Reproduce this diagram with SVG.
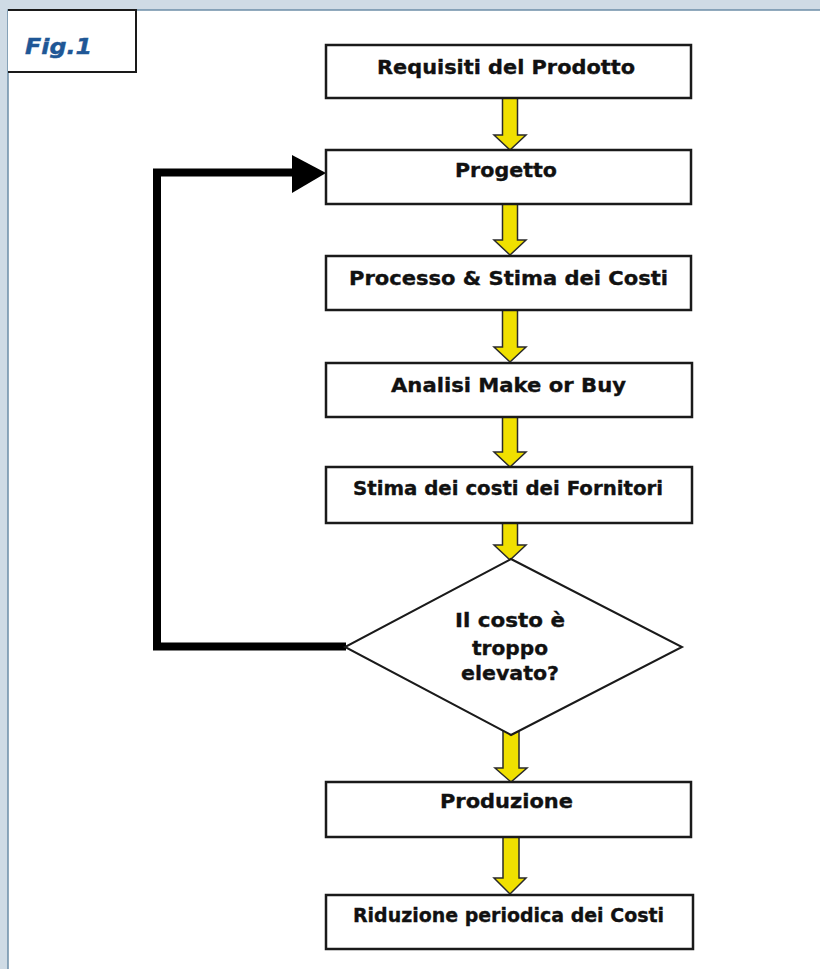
<svg xmlns="http://www.w3.org/2000/svg" width="820" height="969" viewBox="0 0 820 969">
<style>
.box{fill:#fff;stroke:#1a1a1a;stroke-width:2.5}
.lbl{font-family:"DejaVu Sans","Verdana",sans-serif;font-weight:bold;font-size:19.5px;fill:#111;stroke:#111;stroke-width:0.35;text-anchor:middle}
.yarr{fill:#f0e000;stroke:#2a2a2a;stroke-width:1.5;stroke-linejoin:miter}
.fb{fill:none;stroke:#000;stroke-width:8;stroke-linejoin:miter}
</style>
<rect x="0" y="0" width="820" height="969" fill="#cfdbe5"/>
<rect x="8" y="10" width="820" height="970" fill="#fff" stroke="#6e8ea8" stroke-width="1.5"/>
<g id="fig-label">
<path d="M8,10 H136 V72 H8" fill="#fff" stroke="#1a1a1a" stroke-width="2"/>
<text x="25" y="54" font-family="DejaVu Sans, Verdana, sans-serif" font-weight="bold" font-style="italic" font-size="20.5" fill="#1f5796" stroke="#1f5796" stroke-width="0.4" textLength="67" lengthAdjust="spacingAndGlyphs">Fig.1</text>
</g>
<g id="connectors">
<path class="yarr" d="M502.5,98 V135 H494 L510,150 L526,135 H517.5 V98 Z"/>
<path class="yarr" d="M502.5,204 V240 H494 L510,255 L526,240 H517.5 V204 Z"/>
<path class="yarr" d="M502.5,310 V347 H494 L510,362 L526,347 H517.5 V310 Z"/>
<path class="yarr" d="M502.5,417 V452 H494 L510,467 L526,452 H517.5 V417 Z"/>
<path class="yarr" d="M502.5,523 V545 H494 L510,560 L526,545 H517.5 V523 Z"/>
<path class="yarr" d="M503,731 V768 H495 L511,782 L527,768 H519 V731 Z"/>
<path class="yarr" d="M503,837 V878 H494 L510,894 L526,878 H519 V837 Z"/>
<path class="fb" d="M346,646.5 H157 V172.5 H296"/>
<polygon points="292,155 326,173 292,193" fill="#000"/>
</g>
<g id="n1"><rect class="box" x="326" y="45" width="365" height="53"/><text class="lbl" x="506" y="74" textLength="258" lengthAdjust="spacingAndGlyphs">Requisiti del Prodotto</text></g>
<g id="n2"><rect class="box" x="326" y="150" width="365" height="54"/><text class="lbl" x="506" y="177" textLength="102" lengthAdjust="spacingAndGlyphs">Progetto</text></g>
<g id="n3"><rect class="box" x="326" y="256" width="365" height="54"/><text class="lbl" x="508.5" y="285" textLength="319" lengthAdjust="spacingAndGlyphs">Processo &amp; Stima dei Costi</text></g>
<g id="n4"><rect class="box" x="326" y="363" width="366" height="54"/><text class="lbl" x="508.5" y="392" textLength="235" lengthAdjust="spacingAndGlyphs">Analisi Make or Buy</text></g>
<g id="n5"><rect class="box" x="326" y="467" width="366" height="56"/><text class="lbl" x="508" y="495" textLength="310" lengthAdjust="spacingAndGlyphs">Stima dei costi dei Fornitori</text></g>
<g id="n6"><polygon points="511,559 682,647 511,735 345,647" fill="#fff" stroke="#1a1a1a" stroke-width="2"/>
<text class="lbl" x="510" y="627" textLength="110" lengthAdjust="spacingAndGlyphs">Il costo è</text>
<text class="lbl" x="510" y="655" textLength="76" lengthAdjust="spacingAndGlyphs">troppo</text>
<text class="lbl" x="510" y="680" textLength="98" lengthAdjust="spacingAndGlyphs">elevato?</text></g>
<g id="n7"><rect class="box" x="326" y="782" width="365" height="55"/><text class="lbl" x="506.5" y="808" textLength="133" lengthAdjust="spacingAndGlyphs">Produzione</text></g>
<g id="n8"><rect class="box" x="326" y="895" width="367" height="54"/><text class="lbl" x="508.5" y="922" font-size="18" textLength="311" lengthAdjust="spacingAndGlyphs">Riduzione periodica dei Costi</text></g>
</svg>
